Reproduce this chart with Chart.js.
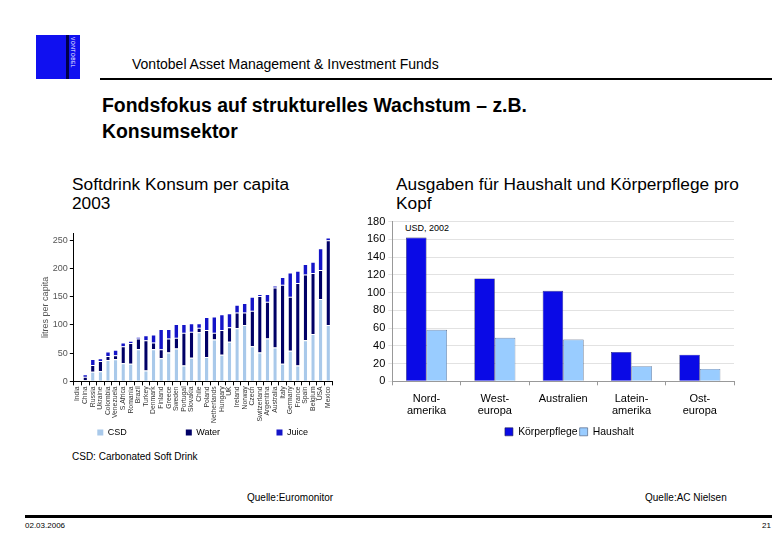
<!DOCTYPE html>
<html>
<head>
<meta charset="utf-8">
<script src="https://cdn.jsdelivr.net/npm/chart.js"></script>
<style>
  body { margin: 0; background: #fff; font-family: "Liberation Sans", Arial, sans-serif; }
  #page { position: relative; width: 780px; height: 540px; overflow: hidden; }
  .abs { position: absolute; white-space: nowrap; }
  #logo { left: 36px; top: 35px; width: 44px; height: 44px; background: #1010f0; }
  #logo .bar { position: absolute; left: 30px; top: 0; width: 3px; height: 44px; background: #00004a; }
  #logo .txt { position: absolute; left: 34px; top: 2px; font-size: 5px; color: #fff; writing-mode: vertical-rl; letter-spacing: 0.5px; }
  .rule { position: absolute; background: #000; }
  canvas { position: absolute; }
</style>
</head>
<body>
<div id="page">
  <div id="logo" class="abs"><div class="bar"></div><div class="txt">VONTOBEL</div></div>
  <div class="abs" style="left:132px; top:56px; font-size:14px;">Vontobel Asset Management &amp; Investment Funds</div>
  <div class="rule" style="left:100px; top:78px; width:672px; height:2px;"></div>
  <div class="abs" style="left:102px; top:92px; font-size:19.4px; font-weight:bold; line-height:26px;">Fondsfokus auf strukturelles Wachstum – z.B.<br>Konsumsektor</div>
  <div class="abs" style="left:72px; top:175px; font-size:17.3px; line-height:19px;">Softdrink Konsum per capita<br>2003</div>
  <div class="abs" style="left:396px; top:175px; font-size:17.3px; line-height:19px;">Ausgaben für Haushalt und Körperpflege pro<br>Kopf</div>
  <div class="abs" style="left:405px; top:223px; font-size:9px;">USD, 2002</div>
  <div class="abs" style="left:72px; top:451px; font-size:10px;">CSD: Carbonated Soft Drink</div>
  <div class="abs" style="left:247px; top:492px; font-size:10px;">Quelle:Euromonitor</div>
  <div class="abs" style="left:645px; top:492px; font-size:10px;">Quelle:AC Nielsen</div>
  <div class="rule" style="left:25px; top:515px; width:747px; height:3px;"></div>
  <div class="abs" style="left:25px; top:521px; font-size:8px;">02.03.2006</div>
  <div class="abs" style="left:762px; top:521px; font-size:8px;">21</div>
  <canvas id="left" width="312" height="221" style="left:28px; top:226px; width:312px; height:221px;"></canvas>
  <canvas id="right" width="392" height="235" style="left:352px; top:212px; width:392px; height:235px;"></canvas>
</div>
<script>
// Softdrink Konsum per capita 2003 (litres)
var countries = ['India', 'China', 'Russia', 'Ukraine', 'Colombia', 'Venezuela', 'S.Africa', 'Romania',
  'Brazil', 'Turkey', 'Denmark', 'Finland', 'Greece', 'Sweden', 'Portugal', 'Slovakia', 'Chile', 'Poland',
  'Netherlands', 'Hungary', 'UK', 'Ireland', 'Norway', 'Czech', 'Switzerland', 'Argentina', 'Australia',
  'Italy', 'Germany', 'France', 'Spain', 'Belgium', 'USA', 'Mexico'];
var csd   = [1, 2, 17, 18, 38, 39, 32, 31, 57, 19, 57, 41, 51, 58, 28, 42, 87, 43, 74, 47, 70, 94, 100, 62, 51, 76, 60, 31, 54, 28, 73, 84, 146, 100];
var water = [0, 6, 12, 18, 7, 7, 30, 37, 19, 54, 12, 16, 25, 19, 58, 46, 8, 48, 12, 44, 26, 28, 22, 63, 100, 65, 106, 140, 96, 146, 116, 108, 51, 150];
var juice = [0, 3, 9, 3, 6, 8, 5, 2, 1, 7, 12, 34, 15, 23, 14, 13, 6, 21, 27, 26, 23, 12, 15, 23, 2, 12, 2, 12, 41, 20, 17, 18, 37, 3];

// Ausgaben fuer Haushalt und Koerperpflege pro Kopf (USD, 2002)
var regions = [['Nord-', 'amerika'], ['West-', 'europa'], 'Australien', ['Latein-', 'amerika'], ['Ost-', 'europa']];
var koerperpflege = [162, 116, 102, 33, 30];
var haushalt = [58, 49, 47, 17, 14];

var leftTicks = [0, 50, 100, 150, 200, 250];
// spacing after each legend entry
var legendGaps = [22, 21, 8];
var rightLegendGaps = [0, 34];

function spacedLabels(gaps) {
  return function(chart) {
    return chart.data.datasets.map(function(ds, i) {
      return { text: ds.label + ' '.repeat(gaps[i]), fillStyle: ds.backgroundColor, strokeStyle: ds.borderColor || ds.backgroundColor,
        lineWidth: ds.borderWidth && typeof ds.borderWidth === 'number' ? ds.borderWidth : 0, datasetIndex: i };
    });
  };
}

new Chart(document.getElementById('left'), {
  type: 'bar',
  data: {
    labels: countries,
    datasets: [
      { label: 'CSD', data: csd, backgroundColor: '#a9c9ea', borderColor: '#ffffff', borderWidth: { top: 1 }, borderSkipped: 'bottom' },
      { label: 'Water', data: water, backgroundColor: '#000066', borderColor: '#ffffff', borderWidth: { top: 1 }, borderSkipped: 'bottom' },
      { label: 'Juice', data: juice, backgroundColor: '#1414c8', borderWidth: 0 }
    ]
  },
  options: {
    responsive: false,
    animation: false,
    layout: { padding: { left: 12, right: 8, top: 4, bottom: 0 } },
    datasets: { bar: { barPercentage: 0.45, categoryPercentage: 1.0 } },
    plugins: {
      legend: {
        position: 'bottom',
        align: 'end',
        labels: { boxWidth: 6, boxHeight: 6, padding: 4, color: '#333', font: { size: 9, family: 'Liberation Sans' },
          generateLabels: function(chart) {
            return chart.data.datasets.map(function(ds, i) {
              return { text: ds.label + ' '.repeat(legendGaps[i]), fillStyle: ds.backgroundColor, strokeStyle: ds.backgroundColor, lineWidth: 0, datasetIndex: i };
            });
          }
        }
      },
      tooltip: { enabled: false }
    },
    scales: {
      x: {
        stacked: true,
        border: { color: '#000', width: 1 },
        grid: { drawOnChartArea: false, color: '#000', tickLength: 4, offset: true },
        ticks: { autoSkip: false, maxRotation: 90, minRotation: 90, padding: 1, color: '#333', font: { size: 6.8, family: 'Liberation Sans' } }
      },
      y: {
        stacked: true,
        min: 0,
        max: 262,
        afterBuildTicks: function(axis) { axis.ticks = leftTicks.map(function(v) { return { value: v }; }); },
        border: { color: '#000', width: 1 },
        grid: { drawOnChartArea: false, color: '#000', tickLength: 4 },
        ticks: { color: '#555', padding: 2, font: { size: 9, family: 'Liberation Sans' } },
        title: { display: true, text: 'litres per capita', color: '#555', padding: 0, font: { size: 9, family: 'Liberation Sans' } }
      }
    }
  }
});

new Chart(document.getElementById('right'), {
  type: 'bar',
  data: {
    labels: regions,
    datasets: [
      { label: 'Körperpflege', data: koerperpflege, backgroundColor: '#0a0ae6', borderColor: '#202050', borderWidth: 0.6 },
      { label: 'Haushalt', data: haushalt, backgroundColor: '#99ccff', borderColor: '#405070', borderWidth: 0.6 }
    ]
  },
  options: {
    responsive: false,
    animation: false,
    layout: { padding: { left: 12, right: 10, top: 4, bottom: 0 } },
    datasets: { bar: { barPercentage: 1.0, categoryPercentage: 0.6 } },
    plugins: {
      legend: {
        position: 'bottom',
        align: 'end',
        labels: { boxWidth: 8, boxHeight: 8, padding: 2, color: '#000', font: { size: 10.4, family: 'Liberation Sans' },
          generateLabels: spacedLabels(rightLegendGaps) }
      },
      tooltip: { enabled: false }
    },
    scales: {
      x: {
        border: { color: '#999', width: 1 },
        grid: { drawOnChartArea: false, color: '#999', tickLength: 4 , offset: true },
        ticks: { color: '#000', padding: 7, font: { size: 11, lineHeight: 1.15, family: 'Liberation Sans' } }
      },
      y: {
        min: 0,
        max: 180,
        border: { color: '#999', width: 1 },
        grid: { color: '#e2e2e2', tickLength: 4 },
        ticks: { stepSize: 20, autoSkip: false, color: '#000', padding: 3, font: { size: 11, family: 'Liberation Sans' } }
      }
    }
  }
});
</script>
</body>
</html>
